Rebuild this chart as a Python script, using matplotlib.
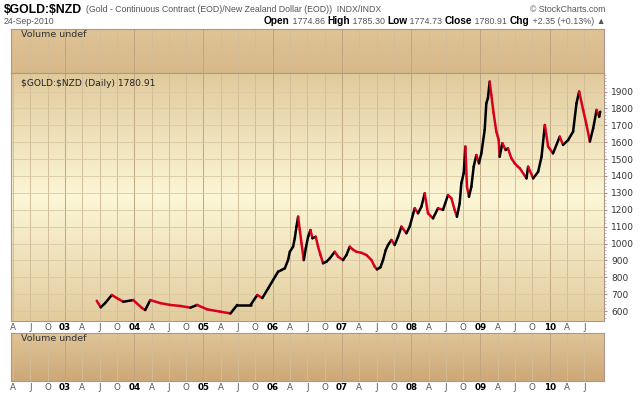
"""
$GOLD:$NZD 日线图 (仿 StockCharts 样式)
"""
import numpy as np
import matplotlib
matplotlib.use("Agg")
import matplotlib.pyplot as plt
from matplotlib.collections import LineCollection

plt.rcParams["font.family"] = ["DejaVu Sans"]

W, H = 640, 396

# ------------------------------------------------------------------
# 数据: 收盘价 (小数年份, 新西兰元)
# ------------------------------------------------------------------
t_year = [
    2003.459, 2003.517, 2003.580, 2003.677, 2003.749, 2003.841, 2003.986,
    2004.112, 2004.159, 2004.232, 2004.377, 2004.522, 2004.667, 2004.812,
    2004.909, 2005.054, 2005.246, 2005.390, 2005.487, 2005.680, 2005.777,
    2005.850, 2005.934, 2006.006, 2006.078, 2006.127, 2006.175, 2006.222,
    2006.247, 2006.294, 2006.319, 2006.343, 2006.367, 2006.391, 2006.416,
    2006.449, 2006.478, 2006.511, 2006.545, 2006.574, 2006.622, 2006.655,
    2006.690, 2006.727, 2006.776, 2006.824, 2006.896, 2006.944, 2007.016,
    2007.065, 2007.113, 2007.152, 2007.209, 2007.281, 2007.354, 2007.426,
    2007.473, 2007.506, 2007.556, 2007.593, 2007.632, 2007.665, 2007.714,
    2007.762, 2007.810, 2007.859, 2007.931, 2007.978, 2008.051, 2008.098,
    2008.147, 2008.195, 2008.242, 2008.315, 2008.387, 2008.459, 2008.531,
    2008.580, 2008.628, 2008.661, 2008.700, 2008.724, 2008.758, 2008.782,
    2008.805, 2008.834, 2008.869, 2008.902, 2008.941, 2008.978, 2009.013,
    2009.061, 2009.085, 2009.108, 2009.133, 2009.157, 2009.190, 2009.229,
    2009.263, 2009.277, 2009.316, 2009.364, 2009.397, 2009.446, 2009.494,
    2009.541, 2009.568, 2009.665, 2009.688, 2009.761, 2009.833, 2009.882,
    2009.930, 2009.977, 2010.048, 2010.145, 2010.193, 2010.266, 2010.338,
    2010.387, 2010.425, 2010.483, 2010.532, 2010.580, 2010.628, 2010.677,
    2010.715, 2010.730,
]
close = [
    661, 622, 647, 695, 677, 655, 665,
    618, 606, 665, 647, 636, 630, 620,
    636, 610, 596, 586, 636, 636, 695,
    677, 734, 784, 833, 843, 853, 902,
    951, 981, 1031, 1100, 1159, 1080, 1001,
    902, 972, 1040, 1080, 1031, 1040, 981,
    932, 883, 892, 912, 951, 922, 902,
    932, 981, 966, 951, 945, 932, 902,
    863, 847, 859, 902, 961, 991, 1021,
    991, 1040, 1100, 1061, 1100, 1209, 1179,
    1218, 1297, 1179, 1149, 1209, 1199, 1287,
    1268, 1199, 1159, 1238, 1357, 1416, 1574,
    1337, 1277, 1337, 1455, 1524, 1475, 1534,
    1673, 1831, 1861, 1959, 1880, 1772, 1663,
    1614, 1514, 1594, 1554, 1564, 1505, 1475,
    1455, 1446, 1386, 1455, 1386, 1425, 1514,
    1702, 1574, 1534, 1633, 1584, 1613, 1663,
    1831, 1900, 1791, 1702, 1604, 1683, 1791,
    1751, 1781,
]

x_ticks = [2002.25 + 0.25 * i for i in range(34)]
x_labels = ["A", "J", "O", "03", "A", "J", "O", "04", "A", "J", "O", "05",
            "A", "J", "O", "06", "A", "J", "O", "07", "A", "J", "O", "08",
            "A", "J", "O", "09", "A", "J", "O", "10", "A", "J"]
price_ticks = [600, 700, 800, 900, 1000, 1100, 1200, 1300, 1400, 1500,
               1600, 1700, 1800, 1900]

quote_parts = [("Open", True), (" 1774.86 ", False), ("High", True),
               (" 1785.30 ", False), ("Low", True), (" 1774.73 ", False),
               ("Close", True), (" 1780.91 ", False), ("Chg", True),
               (" +2.35 (+0.13%) ▲", False)]

XMIN, XMAX = 2002.221, 2010.784
YMIN, YMAX = 544, 2010
HEAD_FONT = ["Liberation Sans", "DejaVu Sans"]


def px_rect(x0, y0, x1, y1):
    return [x0 / W, 1 - y1 / H, (x1 - x0) / W, (y1 - y0) / H]


def gradient(ax, stops):
    pos = [s[0] for s in stops]
    t = np.linspace(0, 1, 256)
    arr = np.zeros((256, 1, 3))
    for c in range(3):
        arr[:, 0, c] = np.interp(t, pos, [s[1][c] / 255 for s in stops])
    ax.imshow(arr, extent=[0, 1, 0, 1], transform=ax.transAxes,
              aspect="auto", zorder=0, interpolation="bilinear")


def style_panel(ax):
    for sp in ax.spines.values():
        sp.set_color("#b0958a")
        sp.set_linewidth(0.8)
    for q, lab in zip(x_ticks, x_labels):
        year_line = lab.isdigit()
        ax.axvline(q, color="#bfa580" if year_line else "#d2bd98",
                   lw=0.7, zorder=1)


def bottom_labels(ax):
    ax.set_xticks(x_ticks, x_labels)
    ax.tick_params(axis="x", length=0, pad=1.5, labelsize=6.3,
                   labelcolor="#555555")
    for lab in ax.get_xticklabels():
        if lab.get_text().isdigit():
            lab.set_fontweight("bold")
            lab.set_color("black")


fig = plt.figure(figsize=(W / 100, H / 100), dpi=100)
fig.patch.set_facecolor("white")
renderer = fig.canvas.get_renderer()

# ---- 上方成交量面板
ax_v1 = fig.add_axes(px_rect(11, 29, 604, 73))
gradient(ax_v1, [(0, (223, 196, 150)), (1, (215, 184, 137))])
style_panel(ax_v1)
ax_v1.set_xlim(XMIN, XMAX)
ax_v1.set_ylim(0, 1)
ax_v1.set_xticks([])
ax_v1.set_yticks([])
ax_v1.text(0.017, 0.88, "Volume undef", transform=ax_v1.transAxes,
           fontsize=6.8, color="#333333", va="center")

# ---- 价格面板
ax = fig.add_axes(px_rect(11, 73, 604, 320.5))
gradient(ax, [(0, (225, 202, 156)), (0.5, (252, 247, 214)),
              (1, (226, 204, 158))])
style_panel(ax)
for p in price_ticks:
    ax.axhline(p, color="#d8c8a4", lw=0.6, zorder=1)

pts = np.column_stack([t_year, close])
segs = np.stack([pts[:-1], pts[1:]], axis=1)
cols = ["#d8001c" if b < a else "black" for a, b in zip(close[:-1], close[1:])]
ax.add_collection(LineCollection(segs, colors=cols, linewidths=1.8,
                                 capstyle="round", zorder=3))

ax.set_xlim(XMIN, XMAX)
ax.set_ylim(YMIN, YMAX)
ax.yaxis.tick_right()
ax.set_yticks(price_ticks)
ax.set_yticks(np.arange(560, 2001, 20), minor=True)
ax.tick_params(axis="y", which="major", length=2.5, color="#b08888",
               labelsize=6.5, pad=2.5, labelcolor="#333333")
ax.tick_params(axis="y", which="minor", length=1.5, color="#c8a8a8")
bottom_labels(ax)
ax.text(0.017, 0.975, "$GOLD:$NZD (Daily) 1780.91", transform=ax.transAxes,
        fontsize=6.6, color="#222222", va="top", parse_math=False)

# ---- 下方成交量面板
ax_v2 = fig.add_axes(px_rect(11, 333, 604, 381))
gradient(ax_v2, [(0, (223, 197, 152)), (1, (205, 167, 119))])
style_panel(ax_v2)
ax_v2.set_xlim(XMIN, XMAX)
ax_v2.set_ylim(0, 1)
ax_v2.set_yticks([])
bottom_labels(ax_v2)
ax_v2.text(0.017, 0.88, "Volume undef", transform=ax_v2.transAxes,
           fontsize=6.8, color="#333333", va="center")

# ---- 标题区
title = fig.text(4 / W, 1 - 10 / H, "$GOLD:$NZD", fontsize=8.8,
                 fontweight="bold", va="center", color="black",
                 family=HEAD_FONT, parse_math=False)
title_end = title.get_window_extent(renderer).x1
fig.text((title_end + 4) / W, 1 - 10 / H,
         "(Gold - Continuous Contract (EOD)/New Zealand Dollar (EOD))  INDX/INDX",
         fontsize=6.3, va="center", color="#555555", family=HEAD_FONT)
fig.text(605 / W, 1 - 10 / H, "© StockCharts.com", fontsize=6.3,
         va="center", ha="right", color="#555555", family=HEAD_FONT)
fig.text(4 / W, 1 - 21 / H, "24-Sep-2010", fontsize=6.3, va="center",
         color="#555555", family=HEAD_FONT)

texts = []
x = 0.0
for s, bold in quote_parts:
    t = fig.text(x, 1 - 21 / H, s, fontsize=7.3 if bold else 6.4,
                 fontweight="bold" if bold else "normal", va="center",
                 color="black" if bold else "#555555",
                 family=HEAD_FONT + ["DejaVu Sans"])
    texts.append(t)
    x += t.get_window_extent(renderer).width / W
shift = 605 / W - x
for t in texts:
    t.set_x(t.get_position()[0] + shift)

fig.savefig("out.png", dpi=100)
